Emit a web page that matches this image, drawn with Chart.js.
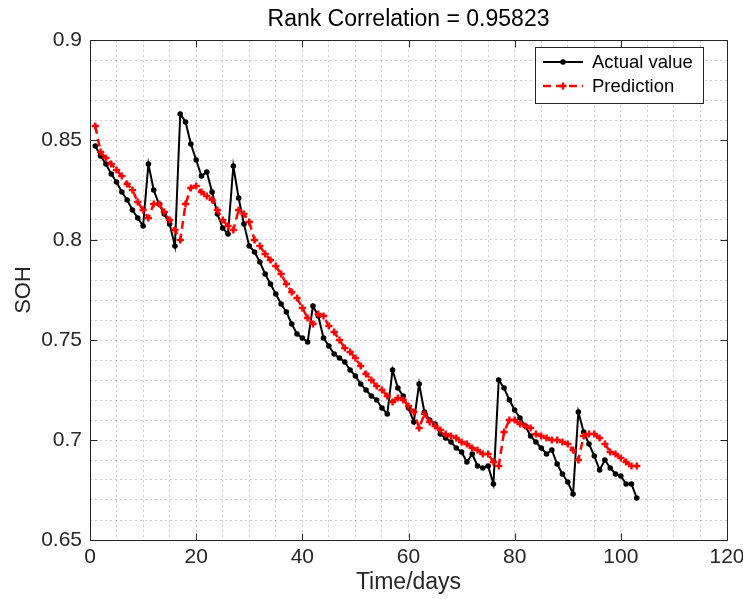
<!DOCTYPE html>
<html>
<head>
<meta charset="utf-8">
<script src="https://cdn.jsdelivr.net/npm/chart.js@4.4.1/dist/chart.umd.min.js"></script>
<style>
  html, body { margin: 0; padding: 0; background: #ffffff; }
  #wrap { width: 743px; height: 599px; position: relative; }
</style>
</head>
<body>
<div id="wrap"><canvas id="c" width="743" height="599"></canvas></div>
<script>
const titleText = 'Rank Correlation = 0.95823';
const xLabel = 'Time/days';
const yLabel = 'SOH';
const seriesNames = ['Actual value', 'Prediction'];
const xTickLabels = ['0', '20', '40', '60', '80', '100', '120'];
const yTickLabels = ['0.65', '0.7', '0.75', '0.8', '0.85', '0.9'];

const days = [1,2,3,4,5,6,7,8,9,10,11,12,13,14,15,16,17,18,19,20,
  21,22,23,24,25,26,27,28,29,30,31,32,33,34,35,36,37,38,39,40,
  41,42,43,44,45,46,47,48,49,50,51,52,53,54,55,56,57,58,59,60,
  61,62,63,64,65,66,67,68,69,70,71,72,73,74,75,76,77,78,79,80,
  81,82,83,84,85,86,87,88,89,90,91,92,93,94,95,96,97,98,99,100,
  101,102,103];

const actual = [0.847,0.842,0.838,0.833,0.829,0.824,0.820,0.815,0.811,0.807,
  0.838,0.825,0.818,0.813,0.808,0.797,0.863,0.859,0.848,0.840,
  0.832,0.834,0.824,0.813,0.806,0.803,0.837,0.821,0.808,0.797,
  0.794,0.789,0.783,0.778,0.773,0.768,0.764,0.758,0.753,0.751,
  0.749,0.767,0.762,0.751,0.747,0.743,0.741,0.739,0.735,0.732,
  0.728,0.725,0.722,0.720,0.716,0.713,0.735,0.726,0.722,0.716,
  0.709,0.728,0.714,0.710,0.708,0.703,0.701,0.699,0.696,0.694,
  0.689,0.693,0.687,0.686,0.687,0.678,0.730,0.726,0.720,0.715,
  0.711,0.707,0.702,0.699,0.696,0.693,0.695,0.688,0.683,0.679,
  0.673,0.714,0.704,0.698,0.692,0.685,0.690,0.686,0.683,0.682,
  0.678,0.678,0.671];

const prediction = [0.857,0.844,0.841,0.838,0.835,0.832,0.828,0.825,0.819,0.815,
  0.811,0.818,0.818,0.814,0.810,0.805,0.800,0.818,0.826,0.827,
  0.824,0.822,0.820,0.815,0.810,0.807,0.805,0.815,0.813,0.809,
  0.800,0.797,0.793,0.790,0.787,0.783,0.778,0.774,0.771,0.766,
  0.761,0.758,0.763,0.762,0.757,0.754,0.750,0.746,0.744,0.741,
  0.737,0.733,0.730,0.727,0.725,0.722,0.719,0.721,0.720,0.717,
  0.714,0.706,0.713,0.709,0.707,0.705,0.703,0.702,0.701,0.699,
  0.698,0.696,0.695,0.693,0.693,0.689,0.687,0.704,0.710,0.710,
  0.708,0.707,0.706,0.703,0.702,0.701,0.700,0.700,0.699,0.698,
  0.695,0.690,0.702,0.703,0.703,0.701,0.698,0.694,0.693,0.691,
  0.689,0.687,0.687];

const FONT = '"Liberation Sans", Arial, Helvetica, sans-serif';
const TXT = '#262626';
const AX = '#262626';
const GRID = 'rgba(0,0,0,0.2)';

const boxPlugin = {
  id: 'boxPlugin',
  afterDatasetsDraw(chart) {
    const {ctx, chartArea: a, scales: {x, y}} = chart;
    ctx.save();
    ctx.strokeStyle = AX;
    ctx.lineWidth = 1;
    ctx.setLineDash([]);
    ctx.beginPath();
    const L = Math.round(a.left) + 0.5, R = Math.round(a.right) + 0.5;
    const T = Math.round(a.top) + 0.5, B = Math.round(a.bottom) + 0.5;
    ctx.rect(L, T, R - L, B - T);
    const tl = 7;
    xTickLabels.forEach(t => {
      const px = Math.round(x.getPixelForValue(parseFloat(t))) + 0.5;
      ctx.moveTo(px, B); ctx.lineTo(px, B - tl);
      ctx.moveTo(px, T); ctx.lineTo(px, T + tl);
    });
    yTickLabels.forEach(t => {
      const py = Math.round(y.getPixelForValue(parseFloat(t))) + 0.5;
      ctx.moveTo(L, py); ctx.lineTo(L + tl, py);
      ctx.moveTo(R, py); ctx.lineTo(R - tl, py);
    });
    ctx.stroke();

    // legend box (upper right, inside axes)
    const lx = 535, ly = 47, lw = 168, lh = 56;
    ctx.fillStyle = '#ffffff';
    ctx.fillRect(lx + 0.5, ly + 0.5, lw, lh);
    ctx.strokeStyle = AX;
    ctx.strokeRect(lx + 0.5, ly + 0.5, lw, lh);
    const rows = [ly + 15, ly + 39];
    chart.data.datasets.forEach((ds, i) => {
      const yy = rows[i];
      const mx = lx + 28;
      ctx.save();
      ctx.strokeStyle = ds.borderColor;
      ctx.lineWidth = ds.borderWidth;
      ctx.setLineDash(ds.borderDash || []);
      ctx.beginPath();
      ctx.moveTo(lx + 8, yy); ctx.lineTo(lx + 48, yy);
      ctx.stroke();
      ctx.restore();
      ctx.save();
      ctx.fillStyle = ds.pointBackgroundColor;
      ctx.strokeStyle = ds.pointBorderColor;
      ctx.lineWidth = ds.pointBorderWidth || 1;
      ctx.beginPath();
      if (ds.pointStyle === 'circle') {
        ctx.arc(mx, yy, ds.pointRadius, 0, Math.PI * 2);
        ctx.fill();
      } else {
        const r = ds.pointRadius;
        ctx.moveTo(mx - r, yy); ctx.lineTo(mx + r, yy);
        ctx.moveTo(mx, yy - r); ctx.lineTo(mx, yy + r);
        ctx.stroke();
      }
      ctx.restore();
      ctx.fillStyle = '#000000';
      ctx.font = '18.5px ' + FONT;
      ctx.textBaseline = 'middle';
      ctx.textAlign = 'left';
      ctx.fillText(ds.label, lx + 57, yy + 1);
    });
    ctx.restore();
  }
};

new Chart(document.getElementById('c'), {
  type: 'line',
  data: {
    datasets: [
      {
        label: seriesNames[0],
        data: days.map((d, i) => ({x: d, y: actual[i]})),
        borderColor: '#000000',
        backgroundColor: '#000000',
        borderWidth: 2,
        pointStyle: 'circle',
        pointRadius: 2.8,
        pointBackgroundColor: '#000000',
        pointBorderColor: '#000000',
        pointBorderWidth: 0,
        tension: 0,
        order: 2
      },
      {
        label: seriesNames[1],
        data: days.map((d, i) => ({x: d, y: prediction[i]})),
        borderColor: '#ff0000',
        backgroundColor: '#ff0000',
        borderWidth: 2.5,
        borderDash: [8, 5],
        pointStyle: 'cross',
        pointRadius: 3.6,
        pointBackgroundColor: '#ff0000',
        pointBorderColor: '#ff0000',
        pointBorderWidth: 2.4,
        tension: 0,
        order: 1
      }
    ]
  },
  options: {
    responsive: false,
    animation: false,
    devicePixelRatio: 1,
    layout: { padding: { left: 0, right: 16, top: 0, bottom: 0 } },
    plugins: {
      legend: { display: false },
      tooltip: { enabled: false },
      title: {
        display: true,
        fullSize: false,
        text: titleText,
        color: '#000000',
        font: { family: FONT, size: 23, weight: 'normal' },
        padding: { top: 6.2, bottom: 6.2 }
      }
    },
    scales: {
      x: {
        type: 'linear',
        min: 0, max: 120,
        afterFit(scale) { scale.height = 59; scale.paddingLeft = 0; scale.paddingRight = 0; },
        ticks: {
          stepSize: 5,
          autoSkip: false,
          maxRotation: 0,
          padding: 5,
          color: TXT,
          font: { family: FONT, size: 21 },
          callback(v) { return xTickLabels.includes(String(v)) ? String(v) : ''; }
        },
        grid: {
          drawTicks: false,
          color: GRID,
          lineWidth: 1
        },
        border: { display: false, dash: [2, 3] },
        title: {
          display: true, text: xLabel, color: TXT,
          font: { family: FONT, size: 23 },
          padding: { top: 0, bottom: 3 }
        }
      },
      y: {
        type: 'linear',
        min: 0.65, max: 0.9,
        afterFit(scale) { scale.width = 90; scale.paddingTop = 0; scale.paddingBottom = 0; },
        ticks: {
          stepSize: 0.01,
          autoSkip: false,
          padding: 8,
          color: TXT,
          font: { family: FONT, size: 21 },
          callback(v) {
            const s = String(Math.round(v * 100) / 100);
            return yTickLabels.includes(s) ? s : '';
          }
        },
        grid: {
          drawTicks: false,
          color: GRID,
          lineWidth: 1
        },
        border: { display: false, dash: [2, 3] },
        title: {
          display: true, text: yLabel, color: TXT,
          font: { family: FONT, size: 22 },
          padding: { top: 10.5, bottom: 0 }
        }
      }
    }
  },
  plugins: [boxPlugin]
});
</script>
</body>
</html>
